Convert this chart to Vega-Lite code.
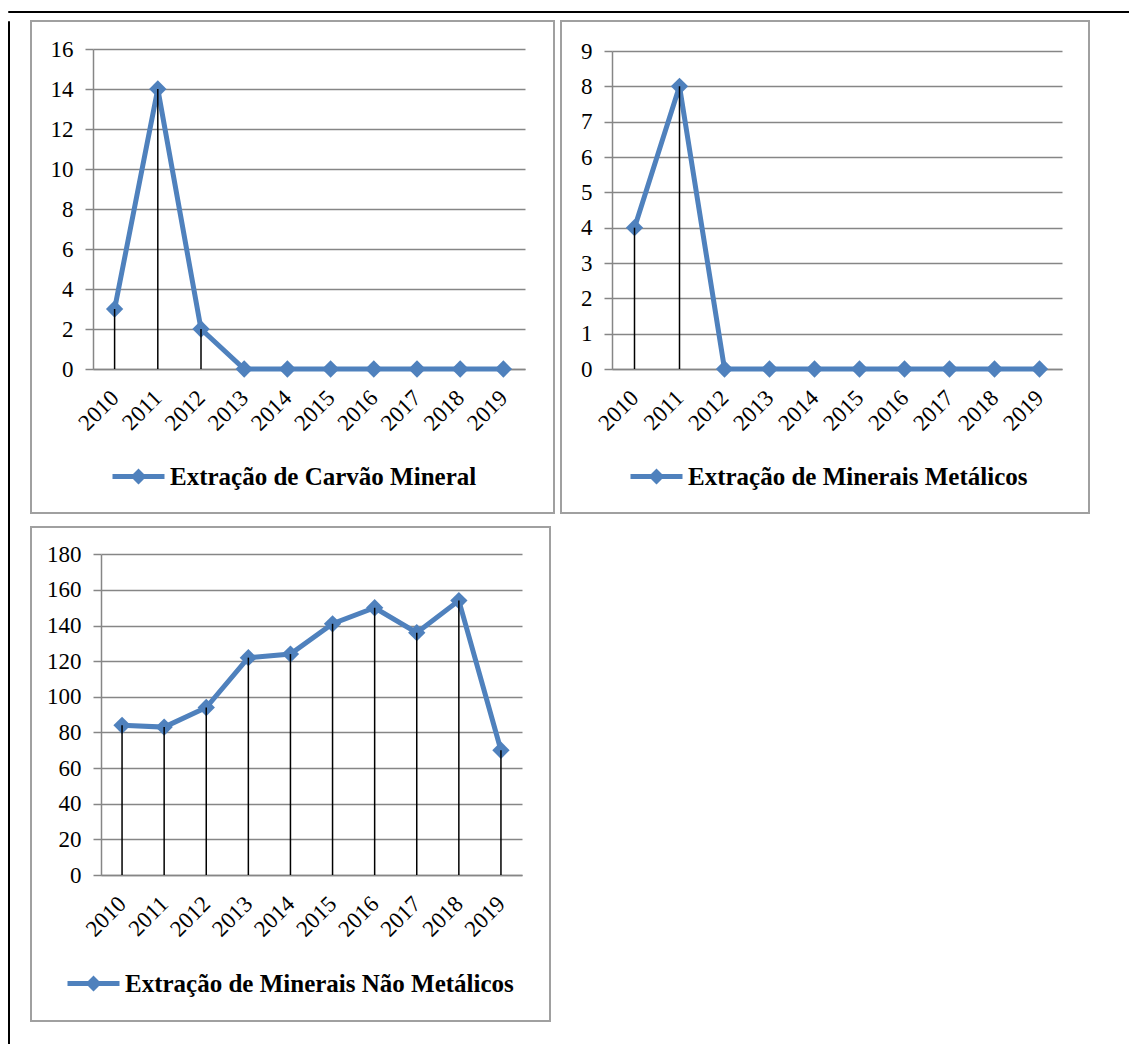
{
  "$schema": "https://vega.github.io/schema/vega-lite/v6.json",
  "padding": {"left": 7, "top": 10, "right": 0, "bottom": 0},
  "background": "white",
  "config": {
    "view": {"stroke": "#a0a0a0", "strokeWidth": 2},
    "axis": {"labelFont": "Liberation Serif", "labelColor": "#000000", "domainColor": "#868686", "domainWidth": 1.5, "gridColor": "#868686", "gridWidth": 1.5, "tickColor": "#868686", "tickWidth": 1.5},
    "axisX": {"grid": false, "ticks": false, "tickSize": 0, "labelAngle": -45, "labelAlign": "right", "labelBaseline": "middle", "labelFontSize": 23, "labelPadding": 25, "labelOverlap": false},
    "axisY": {"grid": true, "ticks": true, "tickSize": 8, "labelFontSize": 23, "labelPadding": 12, "labelOverlap": false},
    "legend": {"orient": "none", "padding": 0, "symbolType": "M-2.6,-0.24H-0.55L0,-0.8L0.55,-0.24H2.6V0.24H0.55L0,0.8L-0.55,0.24H-2.6Z", "symbolSize": 400, "symbolStrokeWidth": 0, "symbolOpacity": 1, "labelFont": "Liberation Serif", "labelFontSize": 25, "labelFontWeight": "bold", "labelColor": "#000000", "labelLimit": 800, "labelOffset": 19}
  },
  "resolve": {"scale": {"color": "independent"}, "legend": {"color": "independent"}},
  "spacing": 7,
  "vconcat": [
    {
      "width": 1130,
      "height": 1,
      "view": {"stroke": "#000000", "strokeWidth": 1},
      "data": {"values": []},
      "mark": {"type": "point"},
      "encoding": {}
    },
    {
      "spacing": 20,
      "resolve": {"scale": {"color": "independent"}, "legend": {"color": "independent"}},
      "hconcat": [
        {
          "width": 1,
          "height": 1040,
          "view": {"stroke": "#000000", "strokeWidth": 1},
          "data": {"values": []},
          "mark": {"type": "point"},
          "encoding": {}
        },
        {
          "spacing": 12,
          "resolve": {"scale": {"color": "independent"}, "legend": {"color": "independent"}},
          "vconcat": [
            {
              "spacing": 5,
              "resolve": {"scale": {"color": "independent"}, "legend": {"color": "independent"}},
              "hconcat": [
                {
                  "width": 523,
                  "height": 492,
                  "data": {"values": [
                    {"ano": "2010", "valor": 3}, {"ano": "2011", "valor": 14}, {"ano": "2012", "valor": 2},
                    {"ano": "2013", "valor": 0}, {"ano": "2014", "valor": 0}, {"ano": "2015", "valor": 0},
                    {"ano": "2016", "valor": 0}, {"ano": "2017", "valor": 0}, {"ano": "2018", "valor": 0},
                    {"ano": "2019", "valor": 0}
                  ]},
                  "encoding": {
                    "x": {"field": "ano", "type": "ordinal", "scale": {"type": "point", "padding": 0.5, "range": [62, 494]}, "axis": {"title": null, "offset": -144}},
                    "y": {"field": "valor", "type": "quantitative", "scale": {"domain": [0, 16], "range": [348, 28], "nice": false}, "axis": {"title": null, "offset": -62, "values": [0, 2, 4, 6, 8, 10, 12, 14, 16]}}
                  },
                  "layer": [
                    {"mark": {"type": "line", "color": "#4F81BD", "strokeWidth": 5}, "encoding": {}},
                    {"mark": {"type": "point", "shape": "diamond", "filled": true, "size": 300, "opacity": 1},
                     "encoding": {"color": {"datum": "Extração de Carvão Mineral", "scale": {"range": ["#4F81BD"]}, "legend": {"title": null, "legendX": 95, "legendY": 443}}}},
                    {"mark": {"type": "rule", "color": "#000000", "strokeWidth": 1.5}, "encoding": {"y2": {"datum": 0}}}
                  ]
                },
                {
                  "width": 528,
                  "height": 492,
                  "data": {"values": [
                    {"ano": "2010", "valor": 4}, {"ano": "2011", "valor": 8}, {"ano": "2012", "valor": 0},
                    {"ano": "2013", "valor": 0}, {"ano": "2014", "valor": 0}, {"ano": "2015", "valor": 0},
                    {"ano": "2016", "valor": 0}, {"ano": "2017", "valor": 0}, {"ano": "2018", "valor": 0},
                    {"ano": "2019", "valor": 0}
                  ]},
                  "encoding": {
                    "x": {"field": "ano", "type": "ordinal", "scale": {"type": "point", "padding": 0.5, "range": [51, 501]}, "axis": {"title": null, "offset": -144}},
                    "y": {"field": "valor", "type": "quantitative", "scale": {"domain": [0, 9], "range": [348, 30], "nice": false}, "axis": {"title": null, "offset": -51, "values": [0, 1, 2, 3, 4, 5, 6, 7, 8, 9]}}
                  },
                  "layer": [
                    {"mark": {"type": "line", "color": "#4F81BD", "strokeWidth": 5}, "encoding": {}},
                    {"mark": {"type": "point", "shape": "diamond", "filled": true, "size": 300, "opacity": 1},
                     "encoding": {"color": {"datum": "Extração de Minerais Metálicos", "scale": {"range": ["#4F81BD"]}, "legend": {"title": null, "legendX": 83, "legendY": 443}}}},
                    {"mark": {"type": "rule", "color": "#000000", "strokeWidth": 1.5}, "encoding": {"y2": {"datum": 0}}}
                  ]
                }
              ]
            },
            {
              "width": 519,
              "height": 494,
              "data": {"values": [
                {"ano": "2010", "valor": 84}, {"ano": "2011", "valor": 83}, {"ano": "2012", "valor": 94},
                {"ano": "2013", "valor": 122}, {"ano": "2014", "valor": 124}, {"ano": "2015", "valor": 141},
                {"ano": "2016", "valor": 150}, {"ano": "2017", "valor": 136}, {"ano": "2018", "valor": 154},
                {"ano": "2019", "valor": 70}
              ]},
              "encoding": {
                "x": {"field": "ano", "type": "ordinal", "scale": {"type": "point", "padding": 0.5, "range": [70, 491]}, "axis": {"title": null, "offset": -146}},
                "y": {"field": "valor", "type": "quantitative", "scale": {"domain": [0, 180], "range": [348, 27.3], "nice": false}, "axis": {"title": null, "offset": -70, "values": [0, 20, 40, 60, 80, 100, 120, 140, 160, 180]}}
              },
              "layer": [
                {"mark": {"type": "line", "color": "#4F81BD", "strokeWidth": 5}, "encoding": {}},
                {"mark": {"type": "point", "shape": "diamond", "filled": true, "size": 300, "opacity": 1},
                 "encoding": {"color": {"datum": "Extração de Minerais Não Metálicos", "scale": {"range": ["#4F81BD"]}, "legend": {"title": null, "legendX": 50, "legendY": 444}}}},
                {"mark": {"type": "rule", "color": "#000000", "strokeWidth": 1.5}, "encoding": {"y2": {"datum": 0}}}
              ]
            }
          ]
        }
      ]
    }
  ]
}
